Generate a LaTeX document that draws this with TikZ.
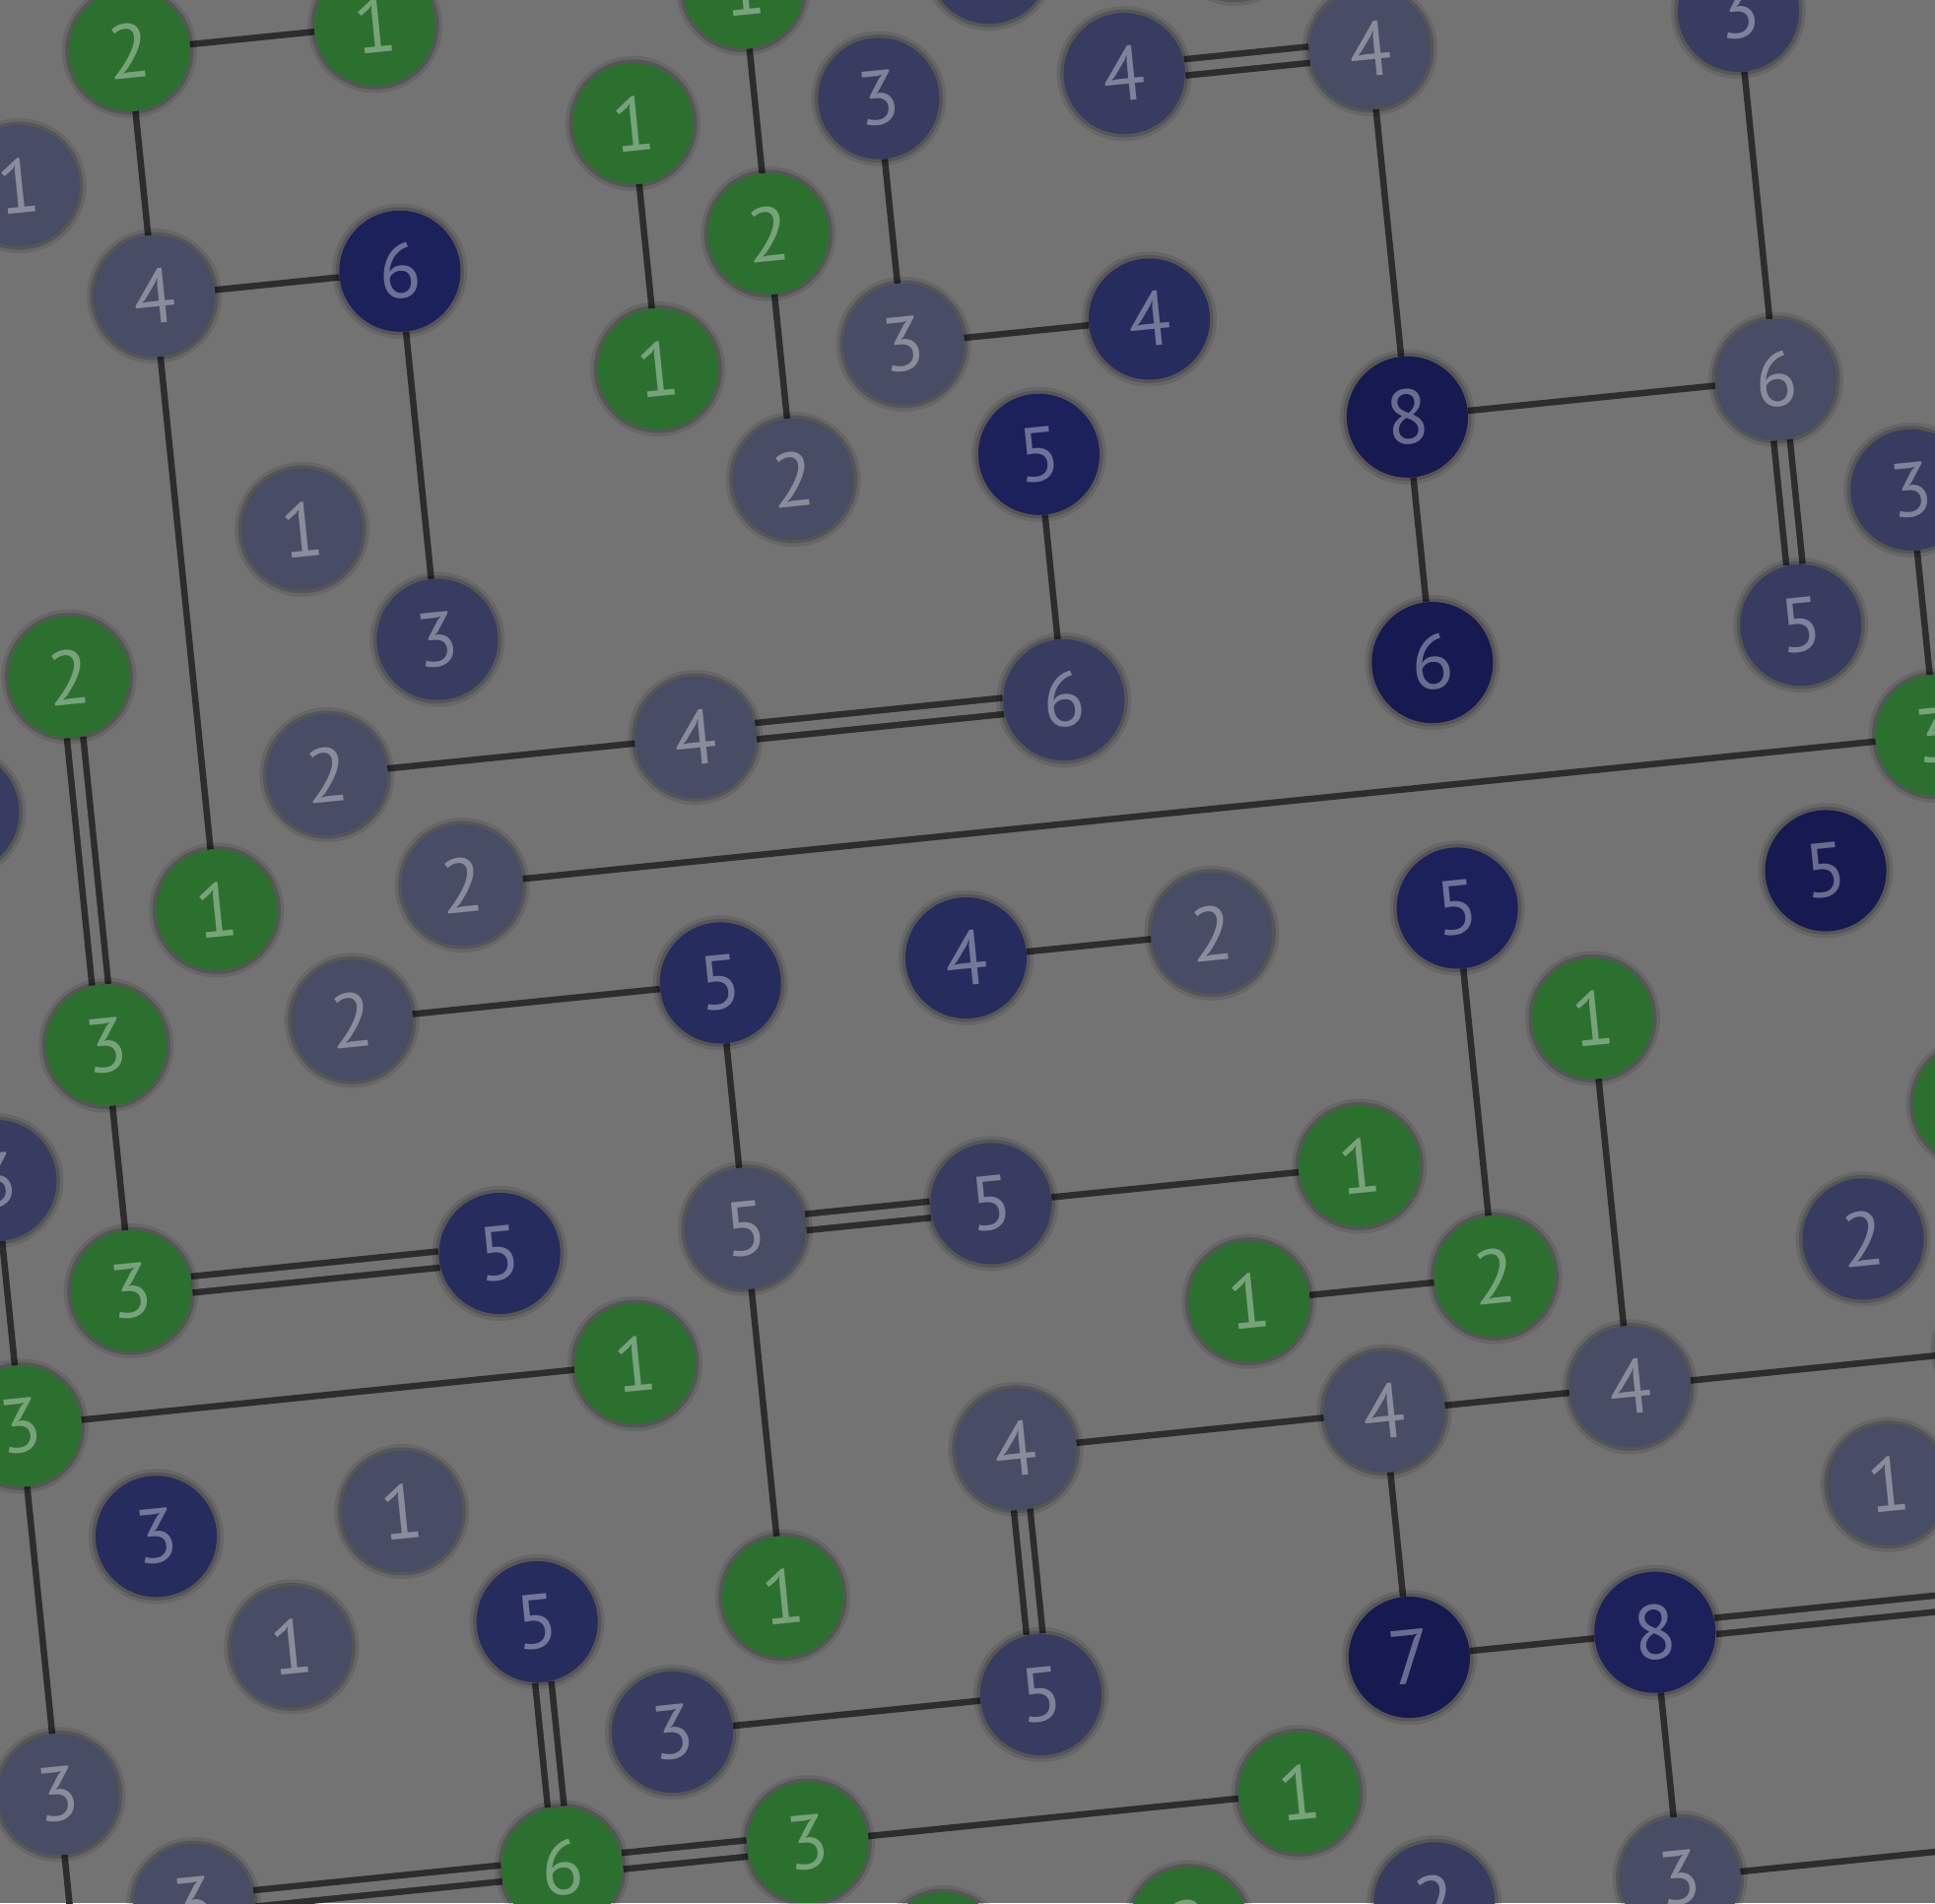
\documentclass[tikz,border=0pt]{standalone}
\usepackage{fontspec}
\newfontfamily\islfont{PT Sans}
\pgfdeclarelayer{bgl}
\pgfdeclarelayer{edges}
\pgfsetlayers{bgl,edges,main}
\definecolor{cBg}{RGB}{115,115,115}
\definecolor{cEdge}{RGB}{45,45,45}
\definecolor{cG}{RGB}{44,112,48}
\definecolor{cL}{RGB}{72,76,100}
\definecolor{cM}{RGB}{55,60,96}
\definecolor{cB}{RGB}{38,44,94}
\definecolor{cD}{RGB}{28,33,92}
\definecolor{cDD}{RGB}{22,26,80}
\tikzset{
  isl/.style={circle, minimum size=123pt, inner sep=0pt, transform shape,
    text=white, text opacity=0.36,
    font=\islfont\fontsize{78pt}{78pt}\selectfont,
    preaction={draw=black, draw opacity=0.10, line width=14pt},
    preaction={draw=black, draw opacity=0.16, line width=7pt}},
  gI/.style={isl, fill=cG},
  lI/.style={isl, fill=cL},
  mI/.style={isl, fill=cM},
  bI/.style={isl, fill=cB},
  dI/.style={isl, fill=cD},
  ddI/.style={isl, fill=cDD},
  br/.style={draw=cEdge, line width=6.5pt},
  dbr/.style={draw=cEdge, line width=6.5pt, double=cBg, double distance=10pt}
}
\begin{document}
\begin{tikzpicture}[x=1pt,y=1pt]
\useasboundingbox (0,-1932) rectangle (1964,0);
\clip (0,-1932) rectangle (1964,0);
\begin{pgfonlayer}{bgl}
\fill[cBg] (0,-1932) rectangle (1964,0);
\end{pgfonlayer}
\begin{scope}[shift={(156.6,-300.6)}, rotate=5.8, x=125.3pt, y=-125.3pt]
% islands
\node[gI] (n2x0) at (0,-2) {2};
\node[gI] (n4x0) at (2,-2) {1};
\node[gI] (n7x0) at (5,-2) {1};
\node[mI] (n9x0) at (7,-2) {};
\node[mI] (n11x0) at (9,-2) {};
\node[mI] (n10x1) at (8,-1) {4};
\node[lI] (n12x1) at (10,-1) {4};
\node[mI] (n15x1) at (13,-1) {3};
\node[lI] (n1x1) at (-1,-1) {1};
\node[gI] (n6x1) at (4,-1) {1};
\node[mI] (n8x1) at (6,-1) {3};
\node[lI] (n2x2) at (0,0) {4};
\node[dI] (n4x2) at (2,0) {6};
\node[gI] (n7x2) at (5,0) {2};
\node[gI] (n6x3) at (4,1) {1};
\node[lI] (n8x3) at (6,1) {3};
\node[bI] (n10x3) at (8,1) {4};
\node[mI] (n0x3) at (-2,1) {};
\node[ddI] (n12x4) at (10,2) {8};
\node[lI] (n15x4) at (13,2) {6};
\node[dI] (n9x4) at (7,2) {5};
\node[lI] (n7x4) at (5,2) {2};
\node[lI] (n3x4) at (1,2) {1};
\node[mI] (n16x5) at (14,3) {3};
\node[mI] (n4x5) at (2,3) {3};
\node[ddI] (n12x6) at (10,4) {6};
\node[mI] (n15x6) at (13,4) {5};
\node[gI] (n1x5) at (-1,3) {2};
\node[mI] (n0x6) at (-2,4) {};
\node[lI] (n3x6) at (1,4) {2};
\node[lI] (n6x6) at (4,4) {4};
\node[mI] (n9x6) at (7,4) {6};
\node[gI] (n16x7) at (14,5) {3};
\node[gI] (n2x7) at (0,5) {1};
\node[lI] (n4x7) at (2,5) {2};
\node[ddI] (n15x8) at (13,6) {5};
\node[dI] (n12x8) at (10,6) {5};
\node[bI] (n8x8) at (6,6) {4};
\node[lI] (n10x8) at (8,6) {2};
\node[bI] (n6x8) at (4,6) {5};
\node[lI] (n3x8) at (1,6) {2};
\node[gI] (n13x9) at (11,7) {1};
\node[gI] (n1x8) at (-1,6) {3};
\node[gI] (n16x10) at (14,8) {};
\node[mI] (n0x9) at (-2,7) {3};
\node[gI] (n11x10) at (9,8) {1};
\node[mI] (n8x10) at (6,8) {5};
\node[lI] (n6x10) at (4,8) {5};
\node[bI] (n4x10) at (2,8) {5};
\node[gI] (n1x10) at (-1,8) {3};
\node[gI] (n12x11) at (10,9) {2};
\node[gI] (n10x11) at (8,9) {1};
\node[mI] (n15x11) at (13,9) {2};
\node[gI] (n5x11) at (3,9) {1};
\node[gI] (n0x11) at (-2,9) {3};
\node[lI] (n11x12) at (9,10) {4};
\node[lI] (n13x12) at (11,10) {4};
\node[lI] (n8x12) at (6,10) {4};
\node[gI] (n16x12) at (14,10) {};
\node[lI] (n15x13) at (13,11) {1};
\node[bI] (n1x12) at (-1,10) {3};
\node[lI] (n3x12) at (1,10) {1};
\node[lI] (n2x13) at (0,11) {1};
\node[bI] (n4x13) at (2,11) {5};
\node[gI] (n6x13) at (4,11) {1};
\node[ddI] (n11x14) at (9,12) {7};
\node[dI] (n13x14) at (11,12) {8};
\node[mI] (n8x14) at (6,12) {5};
\node[mI] (n5x14) at (3,12) {3};
\node[gI] (n10x15) at (8,13) {1};
\node[lI] (n0x14) at (-2,12) {3};
\node[gI] (n6x15) at (4,13) {3};
\node[gI] (n4x15) at (2,13) {6};
\node[lI] (n1x15) at (-1,13) {3};
\node[gI] (n7x16) at (5,14) {};
\node[gI] (n9x16) at (7,14) {2};
\node[mI] (n11x16) at (9,14) {2};
\node[lI] (n13x16) at (11,14) {3};
% off-picture ends
\coordinate (c1) at (16,12);
\coordinate (c2) at (16,14);
\coordinate (c3) at (-2,15);
% bridges
\begin{pgfonlayer}{edges}
\draw[br] (n2x0) -- (n4x0);
\draw[br] (n2x0) -- (n2x2);
\draw[br] (n2x2) -- (n4x2);
\draw[br] (n2x2) -- (n2x7);
\draw[br] (n4x2) -- (n4x5);
\draw[br] (n7x0) -- (n7x2);
\draw[br] (n7x2) -- (n7x4);
\draw[br] (n6x1) -- (n6x3);
\draw[br] (n8x1) -- (n8x3);
\draw[br] (n8x3) -- (n10x3);
\draw[dbr] (n10x1) -- (n12x1);
\draw[br] (n12x1) -- (n12x4);
\draw[br] (n15x1) -- (n15x4);
\draw[br] (n12x4) -- (n15x4);
\draw[br] (n12x4) -- (n12x6);
\draw[dbr] (n15x4) -- (n15x6);
\draw[br] (n9x4) -- (n9x6);
\draw[br] (n3x6) -- (n6x6);
\draw[dbr] (n6x6) -- (n9x6);
\draw[br] (n4x7) -- (n16x7);
\draw[br] (n16x5) -- (n16x7);
\draw[dbr] (n1x5) -- (n1x8);
\draw[br] (n1x8) -- (n1x10);
\draw[dbr] (n1x10) -- (n4x10);
\draw[br] (n3x8) -- (n6x8);
\draw[br] (n6x8) -- (n6x10);
\draw[dbr] (n6x10) -- (n8x10);
\draw[br] (n8x10) -- (n11x10);
\draw[br] (n6x10) -- (n6x13);
\draw[br] (n8x8) -- (n10x8);
\draw[br] (n12x8) -- (n12x11);
\draw[br] (n10x11) -- (n12x11);
\draw[br] (n13x9) -- (n13x12);
\draw[br] (n0x11) -- (n5x11);
\draw[br] (n0x9) -- (n0x11);
\draw[br] (n0x11) -- (n0x14);
\draw[br] (n0x14) -- (c3);
\draw[br] (n8x12) -- (n11x12);
\draw[br] (n11x12) -- (n13x12);
\draw[br] (n13x12) -- (n16x12);
\draw[dbr] (n8x12) -- (n8x14);
\draw[br] (n11x12) -- (n11x14);
\draw[br] (n11x14) -- (n13x14);
\draw[dbr] (n13x14) -- (c1);
\draw[br] (n13x14) -- (n13x16);
\draw[br] (n13x16) -- (c2);
\draw[dbr] (n4x13) -- (n4x15);
\draw[br] (n5x14) -- (n8x14);
\draw[dbr] (n1x15) -- (n4x15);
\draw[dbr] (n4x15) -- (n6x15);
\draw[br] (n6x15) -- (n10x15);
\end{pgfonlayer}
\end{scope}
\end{tikzpicture}
\end{document}
